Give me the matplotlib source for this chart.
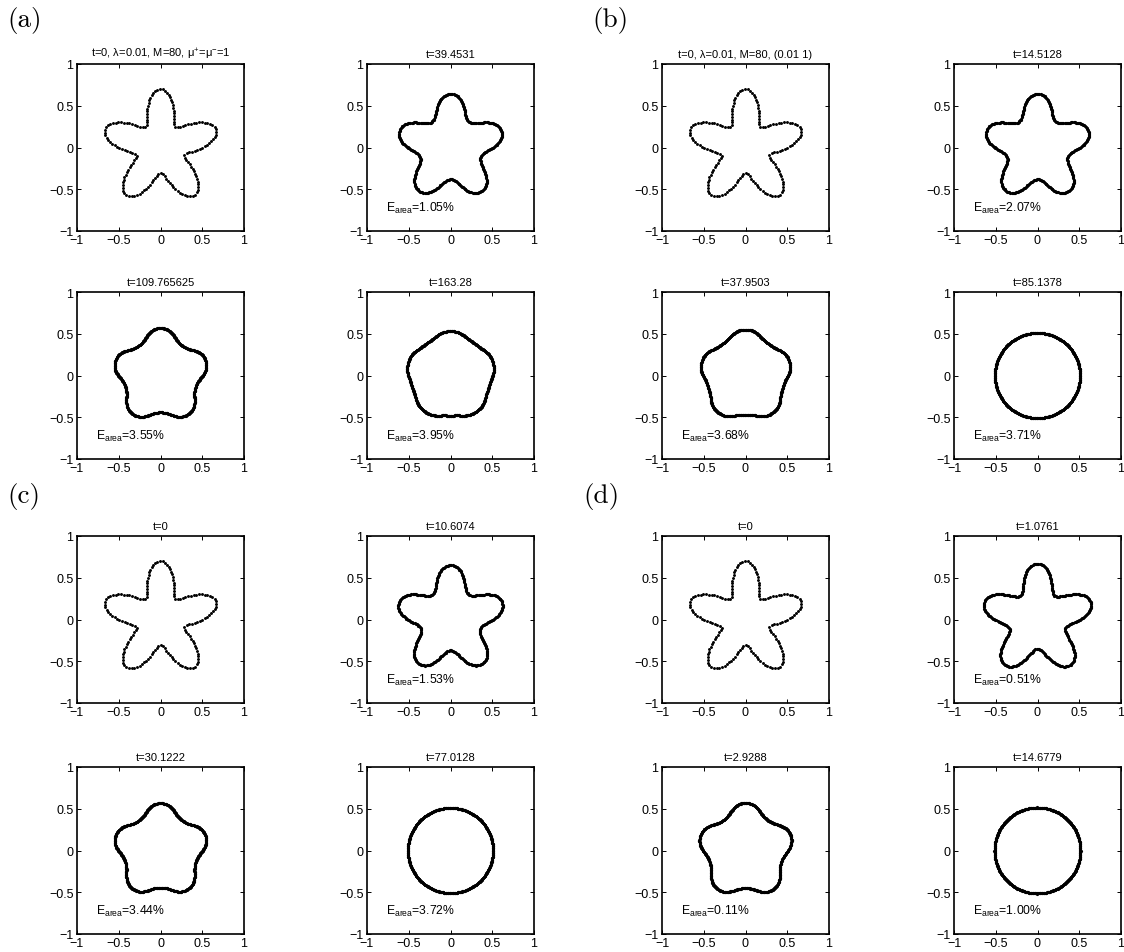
import numpy as np
import matplotlib
matplotlib.use('Agg')
import matplotlib.pyplot as plt

plt.rcParams['font.family'] = ['Liberation Sans', 'DejaVu Sans']
plt.rcParams['mathtext.fontset'] = 'custom'
plt.rcParams['mathtext.rm'] = 'Liberation Sans'
plt.rcParams['mathtext.it'] = 'Liberation Sans:italic'
plt.rcParams['mathtext.bf'] = 'Liberation Sans:bold'

# ---------------- data (panel order: (a)1-4, (b)1-4, (c)1-4, (d)1-4) ----------------
group_labels = ['(a)', '(b)', '(c)', '(d)']
titles = [
    't=0, λ=0.01, M=80, μ$^{+}$=μ$^{-}$=1', 't=39.4531', 't=109.765625', 't=163.28',
    't=0, λ=0.01, M=80, (0.01 1)', 't=14.5128', 't=37.9503', 't=85.1378',
    't=0', 't=10.6074', 't=30.1222', 't=77.0128',
    't=0', 't=1.0761', 't=2.9288', 't=14.6779',
]
e_area = [None, 1.05, 3.55, 3.95,
          None, 2.07, 3.68, 3.71,
          None, 1.53, 3.44, 3.72,
          None, 0.51, 0.11, 1.00]
# shape of the interface: mean radius, 5-fold mode amplitude, 15-fold mode amplitude
base_radius = [0.50, 0.51, 0.505, 0.505,
               0.50, 0.51, 0.51, 0.51,
               0.50, 0.51, 0.505, 0.51,
               0.50, 0.51, 0.51, 0.515]
amplitude = [0.20, 0.135, 0.066, 0.027,
             0.20, 0.135, 0.043, 0.0,
             0.20, 0.145, 0.064, 0.0,
             0.20, 0.163, 0.062, 0.0]
harmonic3 = [0.0, 0.005, 0.003, 0.002,
             0.0, 0.005, 0.003, 0.0,
             0.0, 0.005, 0.003, 0.0,
             0.0, 0.004, 0.002, 0.0]
n_points = [160, 320, 400, 400,
            160, 320, 400, 400,
            160, 320, 400, 400,
            160, 320, 400, 400]
tick_values = [-1, -0.5, 0, 0.5, 1]
tick_labels = ['\u22121', '\u22120.5', '0', '0.5', '1']

# ---------------- layout ----------------
W, H = 1124, 953
fig = plt.figure(figsize=(W / 100, H / 100), dpi=100)
col_left = [77, 367, 662, 954]
row_top = [65, 293, 537, 768]
ax_w, ax_h = 167, 167


def star(r0, a, c, n):
    th = np.linspace(0, 2 * np.pi, 6000)
    r = r0 + a * np.sin(5 * th) + c * np.sin(15 * th)
    xd, yd = r * np.cos(th), r * np.sin(th)
    s = np.concatenate([[0], np.cumsum(np.hypot(np.diff(xd), np.diff(yd)))])
    st = np.linspace(0, s[-1], n, endpoint=False)
    return np.interp(st, s, xd), np.interp(st, s, yd)


for i in range(16):
    g, k = divmod(i, 4)
    row = (g // 2) * 2 + k // 2
    col = (g % 2) * 2 + k % 2
    l = col_left[col] / W
    b = 1 - (row_top[row] + ax_h) / H
    ax = fig.add_axes([l, b, ax_w / W, ax_h / H])
    x, y = star(base_radius[i], amplitude[i], harmonic3[i], n_points[i])
    ms = 2.1 if k == 0 else 2.3
    ax.plot(x, y, linestyle='none', marker='o', markersize=ms,
            markeredgewidth=0, color='black')
    ax.set_xlim(-1, 1)
    ax.set_ylim(-1, 1)
    ax.set_xticks(tick_values)
    ax.set_xticklabels(tick_labels)
    ax.set_yticks(tick_values)
    ax.set_yticklabels(tick_labels)
    ax.tick_params(direction='in', top=True, right=True, length=3, width=0.7,
                   labelsize=9, pad=2.5, colors='black')
    for sp in ax.spines.values():
        sp.set_linewidth(1.2)
    ax.set_title(titles[i], fontsize=8, pad=5)
    if e_area[i] is not None:
        ax.text(-0.77, -0.72, r'E$_{\mathrm{area}}$=%.2f%%' % e_area[i],
                fontsize=8.8, va='center', ha='left')

label_pos = [(7, 21), (592, 21), (7, 497), (583, 497)]
for lab, (px, py) in zip(group_labels, label_pos):
    fig.text(px / W, 1 - py / H, lab, fontsize=19.5, family='cmr10',
             ha='left', va='center')

fig.savefig('out.png', dpi=100)
